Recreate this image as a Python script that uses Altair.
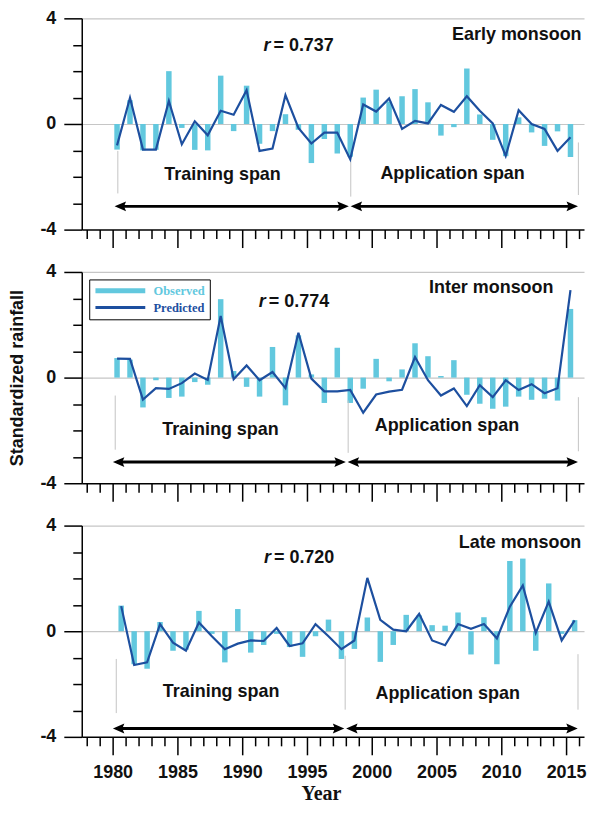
import altair as alt
import pandas as pd

# ---------------- data ----------------
years = list(range(1980, 2016))

early_obs = [-0.97, 0.90, -1.00, -0.98, 2.00, -0.15, -0.98, -1.00, 1.83, -0.27,
             1.45, -0.75, -0.27, 0.37, -0.22, -1.48, -0.57, -1.12, -1.24, 1.00,
             1.30, 0.85, 1.05, 1.32, 0.82, -0.44, -0.12, 2.10, 0.36, -0.60,
             -1.22, 0.25, -0.32, -0.83, -0.28, -1.25]
early_pred = [-0.81, 0.99, -0.97, -0.97, 0.87, -0.77, 0.10, -0.43, 0.50, 0.35,
              1.28, -1.02, -0.93, 1.09, -0.15, -0.74, -0.33, -0.33, -1.34, 0.74,
              0.47, 0.97, -0.19, 0.12, 0.02, 0.72, 0.46, 1.05, 0.50, 0.02,
              -1.21, 0.52, 0.00, -0.19, -1.02, -0.50]
inter_obs = [0.74, 0.68, -1.13, -0.10, -0.77, -0.72, -0.17, -0.27, 2.97, 0.25,
             -0.35, -0.72, 1.16, -1.05, 1.60, 0.12, -0.96, 1.13, -0.96, -0.42,
             0.71, -0.14, 0.31, 1.30, 0.81, 0.06, 0.66, -0.65, -0.99, -1.18,
             -1.10, -0.72, -0.84, -0.80, -0.87, 2.60]
inter_pred = [0.72, 0.71, -0.83, -0.40, -0.43, -0.21, 0.15, -0.09, 2.33, -0.06,
              0.46, -0.10, 0.21, -0.40, 1.70, -0.04, -0.52, -0.52, -0.47, -1.33,
              -0.64, -0.53, -0.46, 0.78, -0.10, -0.68, -0.41, -1.08, -0.29, -0.74,
              -0.10, -0.47, -0.25, -0.59, -0.40, 3.31]
late_obs = [0.97, -1.25, -1.42, 0.35, -0.74, -0.70, 0.77, -0.10, -1.18, 0.84,
            -0.81, -0.52, -0.10, -0.60, -0.97, -0.19, 0.44, -1.05, -0.67, 0.52,
            -1.16, -0.52, 0.62, 0.60, 0.23, 0.21, 0.71, -0.88, 0.53, -1.25,
            2.66, 2.75, -0.74, 1.81, -0.10, 0.42]
late_pred = [0.95, -1.28, -1.18, 0.27, -0.43, -0.74, 0.33, -0.19, -0.68, -0.47,
             -0.35, -0.37, 0.12, -0.56, -0.46, 0.27, -0.19, -0.68, -0.35, 2.02,
             0.43, 0.06, 0.00, 0.66, -0.35, -0.53, 0.27, 0.09, 0.27, -0.27,
             0.93, 1.73, -0.06, 1.12, -0.35, 0.41]

panel_titles = ["Early monsoon", "Inter monsoon", "Late monsoon"]
r_texts = ["= 0.737", "= 0.774", "= 0.720"]
span_labels = ["Training span", "Application span"]
series_names = ["Observed", "Predicted"]

# ---------------- layout / style ----------------
CYAN = "#62c8de"
BLUE = "#1d4f9f"
TEXT = "#111111"
GRID = "#c6c6c6"
VGRAY = "#c4c4c4"
SANS = "Liberation Sans"
SERIF = "Liberation Serif"

X_DOMAIN = [1978, 2016.0]
Y_DOMAIN = [-4, 4]
PANEL_W = 504
PANEL_H = 212
x_shift = [0.34, 0.34, 0.66]
title_pos = [(2006.2, 3.35), (2004.42, 3.38), (2006.72, 3.35)]
r_pos = [(1992.26, 2.95), (1991.9, 2.85), (1992.3, 2.79)]
train_pos = [(1988.48, -1.95), (1988.32, -2.0), (1988.37, -2.32)]
app_pos = [(2006.24, -1.88), (2005.8, -1.84), (2005.86, -2.38)]
arrow_x = [(1980.15, 1998.3, 2015.92), (1980.02, 1998.07, 2015.92), (1980.02, 1997.95, 2015.9)]
arrow_y = [-3.12, -3.2, -3.68]
vline_x = [(1980.40, 1998.38, 2015.95), (1980.20, 1998.18, 2015.95), (1980.28, 1997.95, 2015.92)]
vline_top = [(-1.02, -1.33, -0.70), (-0.68, -0.87, -0.74), (-1.05, -0.93, -0.87)]
vline_bot = [(-2.63, -2.75, -2.69), (-2.73, -2.85, -2.79), (-3.10, -2.97, -2.97)]

HEAD_L = "M0,0L2.3,-1L1.9,0L2.3,1Z"
HEAD_R = "M0,0L-2.3,-1L-1.9,0L-2.3,1Z"
INSET = 0.35
GAP = 0.07

xs = alt.Scale(domain=X_DOMAIN, nice=False, zero=False)
ys = alt.Scale(domain=Y_DOMAIN, nice=False, zero=False)


def x_axis(labels):
    kw = dict(values=list(range(1978, 2017)), grid=False, domainColor="black",
              domainWidth=1.5, tickColor="black", tickWidth=1.5,
              tickSize={"condition": {"test": "datum.value % 5 === 0", "value": 18}, "value": 9})
    if labels:
        kw.update(labels=True, labelExpr="datum.value % 5 === 0 ? '' + datum.value : ''",
                  labelFont=SANS, labelFontSize=18, labelFontWeight="bold", labelColor=TEXT,
                  labelPadding=9, labelOverlap=False, labelFlush=False,
                  title="Year", titleFont=SERIF, titleFontSize=20, titleFontWeight="bold",
                  titleColor=TEXT, titlePadding=2, titleX=240)
    else:
        kw.update(labels=False, title=None)
    return alt.Axis(**kw)


def y_axis(title):
    kw = dict(values=list(range(-4, 5)), grid=True, gridColor=GRID, gridWidth=1.2,
              gridOpacity={"condition": {"test": "datum.value >= 0 && datum.value % 4 === 0", "value": 1}, "value": 0},
              domainColor="black", domainWidth=1.5, tickColor="black", tickWidth=1.5,
              tickSize={"condition": {"test": "datum.value % 4 === 0", "value": 18}, "value": 9},
              labelExpr="datum.value % 4 === 0 ? '' + datum.value : ''",
              labelFont=SANS, labelFontSize=18, labelFontWeight="bold", labelColor=TEXT,
              labelPadding=8, labelFlush=False, labelOverlap=False)
    if title:
        kw.update(title="Standardized rainfall", titleFont=SANS, titleFontSize=18,
                  titleFontWeight="bold", titleColor=TEXT, titlePadding=13)
    else:
        kw.update(title=None)
    return alt.Axis(**kw)


def panel(i, obs, pred, show_x_labels, show_y_title, legend):
    xa = x_axis(show_x_labels)
    ya = y_axis(show_y_title)

    def X(field):
        return alt.X(field, scale=xs, axis=xa)

    def Y(field):
        return alt.Y(field, scale=ys, axis=ya)

    df = pd.DataFrame({"year": years, "obs": obs, "pred": pred})
    df["xpos"] = df["year"] + x_shift[i]

    vl = pd.DataFrame({"x": vline_x[i], "y": vline_top[i], "y2": vline_bot[i]})
    vlines = alt.Chart(vl).mark_rule(color=VGRAY, strokeWidth=1).encode(
        x=X("x:Q"), y=Y("y:Q"), y2="y2:Q")

    bars = alt.Chart(df).mark_bar(size=5.5, color=CYAN).encode(
        x=X("xpos:Q"), y=Y("obs:Q"))

    if legend:
        line = alt.Chart(df).transform_calculate(series="'Predicted'").mark_line(strokeWidth=2.2).encode(
            x=X("xpos:Q"), y=Y("pred:Q"),
            color=alt.Color("series:N",
                            scale=alt.Scale(domain=series_names, range=[CYAN, BLUE]),
                            legend=alt.Legend(
                                title=None, orient="none", legendX=7.5, legendY=7.5,
                                direction="vertical",
                                symbolType="M-1,0L9,0", symbolSize=100,
                                symbolStrokeWidth={"expr": "datum.value === 'Observed' ? 5 : 3"},
                                labelOffset=47, labelFont=SERIF, labelFontSize=12.5,
                                labelFontWeight="bold",
                                labelColor={"expr": f"datum.value === 'Observed' ? '{CYAN}' : '{BLUE}'"},
                                strokeColor="black", fillColor="white", padding=5,
                                rowPadding=0, symbolOpacity=1)))
    else:
        line = alt.Chart(df).mark_line(color=BLUE, strokeWidth=2.2).encode(
            x=X("xpos:Q"), y=Y("pred:Q"))

    l, m, r = arrow_x[i]
    ay = arrow_y[i]
    shafts = pd.DataFrame({"x1": [l + INSET, m + GAP + INSET], "x2": [m - GAP - INSET, r - INSET],
                           "y": [ay, ay]})
    shaft = alt.Chart(shafts).mark_rule(color="black", strokeWidth=3).encode(
        x=X("x1:Q"), x2="x2:Q", y=Y("y:Q"))
    heads_l = alt.Chart(pd.DataFrame({"x": [l, m + GAP], "y": [ay, ay]})).mark_point(
        shape=HEAD_L, size=100, filled=True, color="black", opacity=1, strokeWidth=0).encode(
        x=X("x:Q"), y=Y("y:Q"))
    heads_r = alt.Chart(pd.DataFrame({"x": [m - GAP, r], "y": [ay, ay]})).mark_point(
        shape=HEAD_R, size=100, filled=True, color="black", opacity=1, strokeWidth=0).encode(
        x=X("x:Q"), y=Y("y:Q"))

    txt = dict(font=SANS, fontSize=18, fontWeight="bold", color=TEXT, baseline="middle")
    tdf = pd.DataFrame({"x": [title_pos[i][0]], "y": [title_pos[i][1]], "t": [panel_titles[i]]})
    title = alt.Chart(tdf).mark_text(align="left", **txt).encode(x=X("x:Q"), y=Y("y:Q"), text="t:N")

    rdf = pd.DataFrame({"x": [r_pos[i][0]], "y": [r_pos[i][1]], "r": ["r"], "t": [r_texts[i]]})
    r_it = alt.Chart(rdf).mark_text(align="right", dx=-1, fontStyle="italic", **txt).encode(
        x=X("x:Q"), y=Y("y:Q"), text="r:N")
    r_val = alt.Chart(rdf).mark_text(align="left", dx=2, **txt).encode(
        x=X("x:Q"), y=Y("y:Q"), text="t:N")

    sdf = pd.DataFrame({"x": [train_pos[i][0], app_pos[i][0]], "y": [train_pos[i][1], app_pos[i][1]],
                        "t": span_labels})
    spans = alt.Chart(sdf).mark_text(align="center", **txt).encode(
        x=X("x:Q"), y=Y("y:Q"), text="t:N")

    return alt.layer(bars, vlines, line, shaft, heads_l, heads_r, title, r_it, r_val, spans).properties(
        width=PANEL_W, height=PANEL_H)


p1 = panel(0, early_obs, early_pred, False, False, False)
p2 = panel(1, inter_obs, inter_pred, False, True, True)
p3 = panel(2, late_obs, late_pred, True, False, False)

chart = alt.vconcat(p1, p2, p3, spacing=42.5, bounds="flush").resolve_scale(
    color="independent").resolve_legend(color="independent").properties(
    padding={"left": 0, "top": 0, "right": 0, "bottom": 0},
    background="white").configure_view(stroke=None)

chart.save("out.html", embed_options={"renderer": "svg", "actions": False})
